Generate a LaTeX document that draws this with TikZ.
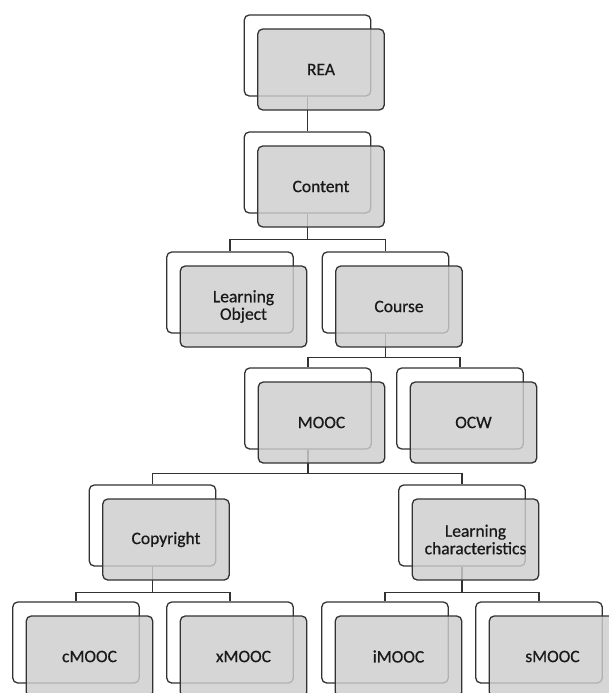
\documentclass[tikz,border=0pt]{standalone}
\usepackage{fontspec}
\setmainfont{Carlito}
\newfontfamily\boxfont{Carlito}[RawFeature={embolden=0.6}]
\definecolor{boxgray}{RGB}{206,206,206}
\definecolor{edgec}{RGB}{50,50,50}
\definecolor{txtc}{RGB}{25,25,25}
\tikzset{
  backbox/.style={draw=edgec, line width=1.3pt, fill=white, rounded corners=5pt,
    minimum width=126.5pt, minimum height=81pt, inner sep=0pt},
  frontbox/.style={draw=edgec, line width=1.3pt, fill=boxgray, fill opacity=0.82, text opacity=1,
    rounded corners=5pt, minimum width=126.5pt, minimum height=81pt, inner sep=0pt,
    text=txtc, align=center, font=\boxfont\fontsize{17.5}{17.5}\selectfont},
  conn/.style={draw=edgec, line width=1.3pt}
}
\newcommand\backpair[3]{\node[backbox] (#1b) at (#2,#3) {};}
\newcommand\frontpair[4]{\node[frontbox, xshift=13.5pt, yshift=-14pt] (#1) at (#2,#3) {#4};}
\begin{document}
\begin{tikzpicture}[x=1pt,y=-1pt]
\clip (0,0) rectangle (609,693);
\fill[white] (0,0) rectangle (609,693);
% back boxes
\backpair{rea}{307.5}{55.5}
\backpair{content}{307.5}{172.5}
\backpair{lo}{230}{292.5}
\backpair{course}{385.5}{292.5}
\backpair{mooc}{308}{408.5}
\backpair{ocw}{460}{408.5}
\backpair{copy}{152.5}{525.5}
\backpair{lc}{462}{525.5}
\backpair{cm}{76}{642.5}
\backpair{xm}{230}{642.5}
\backpair{im}{385}{642.5}
\backpair{sm}{539}{642.5}
% connectors
\draw[conn] (reab.south) -- (contentb.north);
\draw[conn] (contentb.south) -- ++(0,26) -| (lob.north);
\draw[conn] (contentb.south) -- ++(0,26) -| (courseb.north);
\draw[conn] (courseb.south) -- ++(0,24) -| (moocb.north);
\draw[conn] (courseb.south) -- ++(0,24) -| (ocwb.north);
\draw[conn] (moocb.south) -- ++(0,24) -| (copyb.north);
\draw[conn] (moocb.south) -- ++(0,24) -| (lcb.north);
\draw[conn] (copyb.south) -- ++(0,26) -| (cmb.north);
\draw[conn] (copyb.south) -- ++(0,26) -| (xmb.north);
\draw[conn] (lcb.south) -- ++(0,26) -| (imb.north);
\draw[conn] (lcb.south) -- ++(0,26) -| (smb.north);
% front boxes
\frontpair{rea}{307.5}{55.5}{REA}
\frontpair{content}{307.5}{172.5}{Content}
\frontpair{lo}{230}{292.5}{Learning\\Object}
\frontpair{course}{385.5}{292.5}{Course}
\frontpair{mooc}{308}{408.5}{MOOC}
\frontpair{ocw}{460}{408.5}{OCW}
\frontpair{copy}{152.5}{525.5}{Copyright}
\frontpair{lc}{462}{525.5}{Learning\\characteristics}
\frontpair{cm}{76}{642.5}{cMOOC}
\frontpair{xm}{230}{642.5}{xMOOC}
\frontpair{im}{385}{642.5}{iMOOC}
\frontpair{sm}{539}{642.5}{sMOOC}
\end{tikzpicture}
\end{document}
